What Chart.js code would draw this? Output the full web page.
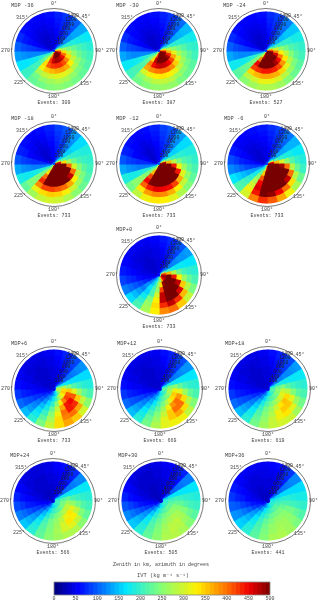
<!DOCTYPE html>
<html>
<head>
<meta charset="utf-8">
<title>IVT composites</title>
<script src="https://cdn.jsdelivr.net/npm/chart.js@4"></script>
<style>
  html, body { margin: 0; padding: 0; background: #fff; width: 320px; height: 603px; overflow: hidden; }
  canvas { position: absolute; filter: blur(0.35px); }
</style>
</head>
<body>
<script>
// IVT, one row per ring (outermost first), 24 azimuth bins from 0 deg clockwise
const mdpM36 = [
  [70,80,100,135,170,190,205,215,225,235,245,250,245,235,225,200,165,130,100,75,60,55,55,60],
  [65,75,95,135,175,200,215,230,240,255,270,275,265,255,235,200,165,125,90,65,55,50,50,55],
  [60,70,90,135,180,210,230,255,275,300,310,310,300,290,270,205,170,120,85,60,50,45,45,50],
  [55,65,85,130,185,225,255,290,330,365,375,370,360,350,320,205,175,120,80,55,45,40,40,45],
  [50,60,85,125,190,240,290,340,385,415,430,430,425,410,340,220,185,120,75,50,40,35,35,40],
  [45,55,80,125,195,265,340,400,445,470,480,480,465,425,310,235,195,120,75,50,35,35,35,40],
  [45,55,80,135,225,320,410,470,490,500,500,500,480,400,280,230,195,125,75,45,35,35,35,40],
  [80,110,160,220,290,340,390,430,460,480,480,470,430,370,300,240,190,150,120,100,80,70,70,75]
];
const mdpM30 = [
  [70,80,105,145,175,195,205,220,230,240,255,260,255,245,235,205,170,135,100,75,60,55,55,60],
  [65,75,100,145,180,200,220,235,250,265,285,290,285,270,250,210,170,125,90,65,55,50,50,55],
  [60,70,95,140,185,215,240,265,290,315,330,335,330,320,300,210,175,120,85,60,50,45,45,50],
  [55,65,90,135,190,230,270,310,350,385,400,400,395,385,370,215,180,120,80,55,45,40,40,45],
  [50,60,85,130,195,250,310,370,420,450,465,470,465,445,390,225,190,120,75,50,40,35,35,40],
  [45,55,85,130,205,280,365,435,480,500,500,500,500,470,340,240,200,120,75,50,35,35,35,40],
  [45,55,85,140,235,340,440,490,500,500,500,500,500,430,290,235,200,125,75,45,35,35,35,40],
  [80,110,165,230,300,360,410,450,480,500,500,490,450,390,310,250,195,150,120,100,80,70,70,75]
];
const mdpM24 = [
  [75,85,115,150,180,195,205,220,230,245,265,275,275,265,250,220,175,135,100,75,60,55,55,60],
  [70,80,110,150,180,205,220,240,260,280,305,315,315,300,285,225,175,125,90,65,55,50,50,55],
  [65,75,105,150,190,215,245,280,310,345,365,370,370,360,345,230,175,120,85,60,50,45,45,50],
  [60,70,100,145,195,235,285,335,380,420,435,440,440,430,420,235,180,120,80,55,45,40,40,45],
  [55,65,95,140,200,260,330,395,445,480,500,500,500,500,450,240,190,120,75,50,40,35,35,40],
  [50,60,95,140,210,295,390,465,500,500,500,500,500,500,390,245,200,125,75,50,35,35,35,40],
  [50,60,95,150,245,360,470,500,500,500,500,500,500,470,300,240,200,125,75,45,35,35,35,40],
  [90,120,175,240,320,380,440,480,500,500,500,500,480,420,330,260,200,155,125,100,85,75,75,80]
];
const mdpM18 = [
  [85,95,130,160,185,195,205,215,230,250,275,295,300,290,265,225,180,135,95,70,60,55,60,70],
  [80,90,125,160,185,200,220,240,265,295,325,345,350,340,315,240,175,125,85,65,55,50,55,65],
  [75,85,120,160,190,210,245,285,330,370,400,410,420,420,385,245,175,120,80,55,50,45,50,60],
  [70,80,115,155,195,230,300,400,470,500,500,500,500,500,430,245,180,115,75,50,45,40,45,55],
  [65,75,110,155,205,265,400,500,500,500,500,500,500,500,400,240,185,115,75,50,40,35,40,50],
  [60,70,105,155,225,340,500,500,500,500,500,500,500,500,340,240,190,115,75,50,35,35,40,50],
  [60,70,105,170,290,450,500,500,500,500,500,500,500,480,290,230,190,120,75,45,35,35,40,50],
  [110,140,190,260,350,420,480,500,500,500,500,500,500,450,360,280,210,160,130,105,90,80,85,95]
];
const mdpM12 = [
  [85,95,130,160,185,195,210,225,245,275,310,330,335,320,285,235,185,135,95,70,60,55,60,70],
  [80,90,125,160,185,205,225,255,290,330,365,385,390,375,335,250,180,125,85,65,55,50,55,65],
  [75,85,120,160,190,215,260,310,365,420,445,450,455,440,405,255,180,120,80,55,50,45,50,60],
  [70,80,115,155,195,240,320,440,500,500,500,500,500,500,450,255,185,115,75,50,45,40,45,55],
  [65,75,110,155,205,280,440,500,500,500,500,500,500,500,420,245,190,115,75,50,40,35,40,50],
  [60,70,105,155,230,360,500,500,500,500,500,500,500,500,360,240,190,115,75,50,35,35,40,50],
  [60,70,105,175,300,470,500,500,500,500,500,500,500,490,300,230,190,120,75,45,35,35,40,50],
  [110,140,190,270,360,430,490,500,500,500,500,500,500,460,360,280,210,160,130,105,90,80,85,95]
];
const mdpM6 = [
  [75,85,110,140,170,185,200,230,270,320,370,410,430,390,300,215,165,120,90,65,55,55,60,65],
  [70,80,105,140,170,195,225,280,340,400,450,490,500,440,320,210,155,110,80,60,50,50,55,60],
  [65,75,100,140,180,215,280,400,470,500,500,500,500,460,295,200,145,100,70,55,45,45,50,55],
  [60,70,95,135,185,250,400,500,500,500,500,500,500,450,270,190,135,90,65,50,40,40,45,50],
  [55,65,95,135,195,300,480,500,500,500,500,500,500,410,250,180,130,85,60,45,40,35,40,45],
  [50,60,90,135,215,360,500,500,500,500,500,500,500,350,225,170,125,80,55,40,35,35,40,45],
  [50,60,95,160,290,450,500,500,500,500,500,500,470,290,200,160,115,75,50,40,35,35,40,45],
  [100,130,180,250,340,420,470,490,500,500,480,450,380,290,220,170,130,105,90,80,75,70,75,85]
];
const mdp0 = [
  [65,75,95,130,165,190,210,240,290,350,400,385,330,270,210,160,115,85,65,55,50,50,50,55],
  [60,70,90,125,165,195,225,280,360,430,470,430,340,260,195,145,105,75,60,50,45,45,45,50],
  [55,65,85,125,170,205,260,350,460,500,500,470,330,240,175,130,95,70,55,45,40,40,40,45],
  [50,60,85,120,170,230,330,470,500,500,500,470,300,210,155,115,85,60,50,45,40,35,40,45],
  [45,55,80,115,180,280,440,500,500,500,500,420,260,210,165,125,75,55,45,40,35,35,35,40],
  [45,50,75,115,200,360,500,500,500,500,490,340,260,195,150,115,65,50,45,40,35,35,35,40],
  [45,50,75,130,260,410,470,490,470,450,370,260,230,175,140,105,60,50,45,35,35,35,35,40],
  [70,85,105,135,170,205,230,245,245,225,195,165,135,110,90,75,65,55,50,45,45,50,55,60]
];
const mdpP6 = [
  [60,70,90,125,160,185,210,250,300,350,370,340,290,240,190,145,105,80,60,50,45,45,45,50],
  [55,65,85,120,160,190,225,290,370,400,390,340,270,220,175,130,95,70,55,45,40,40,40,45],
  [50,60,80,115,160,200,260,350,430,440,400,320,250,200,160,120,90,65,50,45,40,35,40,45],
  [45,55,75,110,160,215,310,410,450,440,370,290,225,180,145,110,80,60,50,40,35,35,35,40],
  [40,50,70,105,165,240,350,410,420,390,320,250,195,160,125,95,75,55,45,40,35,35,35,40],
  [40,45,65,105,175,270,340,350,330,300,250,200,165,135,110,85,65,50,45,35,35,35,35,40],
  [40,45,65,110,190,265,290,280,260,225,190,160,130,110,90,70,60,45,40,35,35,35,35,35],
  [45,50,60,70,85,95,105,105,100,95,85,75,65,60,55,50,45,40,40,35,35,35,40,40]
];
const mdpP12 = [
  [60,70,90,125,165,190,210,245,285,320,320,310,275,235,190,145,105,80,60,50,45,45,45,50],
  [55,65,85,125,165,195,225,280,340,370,350,310,260,225,180,135,95,70,55,45,40,40,40,45],
  [50,60,80,120,170,205,260,340,400,400,350,290,245,210,165,125,90,65,50,45,40,35,40,45],
  [45,55,75,115,170,225,310,380,400,380,320,265,225,190,150,115,85,60,50,40,35,35,35,40],
  [40,50,70,110,175,250,320,350,340,310,270,235,205,170,135,105,75,55,45,40,35,35,35,40],
  [40,45,65,110,185,240,270,275,255,240,225,210,185,150,120,90,70,50,45,35,35,35,35,40],
  [40,45,60,100,170,215,225,220,210,200,190,180,160,130,105,80,60,50,40,35,35,35,35,35],
  [45,50,55,65,75,85,90,95,95,90,85,75,70,60,55,50,45,40,40,35,35,35,40,40]
];
const mdpP18 = [
  [60,70,90,130,170,190,210,235,265,295,300,290,265,235,190,145,105,80,60,50,45,45,45,50],
  [55,65,85,125,170,195,220,260,310,335,320,290,255,225,180,135,95,70,55,45,40,40,40,45],
  [50,60,80,120,170,205,245,310,350,350,320,275,245,215,170,125,90,65,50,45,40,35,40,45],
  [45,55,75,120,175,220,280,340,355,335,295,260,235,200,155,115,85,60,50,40,35,35,35,40],
  [40,50,70,115,180,240,290,310,300,280,255,235,215,180,140,105,75,55,45,40,35,35,35,40],
  [40,45,65,110,185,230,250,250,240,230,220,210,190,155,120,90,70,50,45,35,35,35,35,40],
  [40,45,60,100,170,205,215,215,210,200,190,180,160,130,105,80,60,50,40,35,35,35,35,35],
  [45,50,55,65,75,85,90,95,95,90,85,75,70,60,55,50,45,40,40,35,35,35,40,40]
];
const mdpP24 = [
  [55,60,75,120,170,190,205,225,250,275,275,265,250,225,190,150,115,90,70,55,45,40,40,45],
  [50,55,70,120,170,195,215,245,290,310,300,270,245,220,185,140,105,80,60,50,40,40,40,45],
  [45,50,65,115,170,200,235,285,330,335,300,265,240,215,175,130,95,70,55,45,40,35,35,40],
  [40,50,60,110,170,210,255,310,335,315,280,255,235,205,160,120,85,65,50,40,35,35,35,40],
  [40,45,60,105,175,225,265,285,285,270,250,235,215,185,145,110,80,60,45,40,35,35,35,35],
  [35,40,55,100,175,215,235,240,235,225,215,205,190,160,125,95,70,55,45,35,35,30,30,35],
  [35,40,55,95,165,195,205,205,200,195,190,175,160,135,105,80,60,50,40,35,30,30,30,35],
  [35,35,40,50,60,65,70,75,75,70,65,60,55,50,45,40,35,35,30,30,30,30,30,35]
];
const mdpP30 = [
  [50,55,70,115,165,185,200,220,245,270,280,275,250,225,190,150,120,95,70,55,45,40,40,45],
  [45,50,65,115,165,190,205,230,260,280,285,270,245,220,185,145,110,85,60,50,40,35,35,40],
  [45,50,60,110,165,195,215,245,270,285,280,265,240,215,175,135,100,75,55,45,35,35,35,40],
  [40,45,60,105,165,200,225,250,270,275,265,250,230,205,165,125,90,65,50,40,35,35,35,35],
  [35,40,55,100,165,205,225,245,255,255,245,235,215,190,150,115,80,60,45,40,35,30,30,35],
  [35,40,50,95,165,200,215,225,230,230,220,210,195,170,130,100,70,55,45,35,30,30,30,35],
  [35,35,50,90,155,185,195,200,200,200,190,180,165,140,110,85,60,50,40,35,30,30,30,30],
  [30,30,35,45,55,60,65,70,70,65,60,55,50,45,40,35,35,30,30,25,25,25,30,30]
];
const mdpP36 = [
  [55,60,80,120,160,180,195,215,240,265,275,270,245,220,190,155,125,100,80,65,55,50,50,50],
  [50,55,75,120,160,180,200,225,250,265,270,260,240,215,185,150,120,95,70,60,50,45,45,45],
  [45,50,70,115,160,185,205,235,255,265,265,255,235,210,175,140,110,85,65,55,45,40,40,45],
  [40,45,65,110,160,190,210,235,250,255,255,240,225,200,165,130,100,75,55,50,40,40,40,40],
  [40,45,60,105,160,190,210,225,240,240,235,225,205,185,150,120,85,65,50,45,40,35,35,40],
  [35,40,55,100,155,185,200,210,220,220,210,200,185,165,130,100,75,60,50,40,35,30,35,35],
  [35,35,50,95,145,175,185,190,195,190,185,170,155,135,105,85,60,50,45,35,30,30,30,30],
  [30,30,35,45,50,55,60,65,65,60,55,55,50,45,40,35,35,30,30,25,25,25,30,30]
];

const panelTitles = ['MDP -36','MDP -30','MDP -24','MDP -18','MDP -12','MDP -6','MDP+0','MDP+6','MDP+12','MDP+18','MDP+24','MDP+30','MDP+36'];
const panelEvents = [309,387,527,733,733,733,733,733,669,619,566,505,441];
const panelGrids = [mdpM36,mdpM30,mdpM24,mdpM18,mdpM12,mdpM6,mdp0,mdpP6,mdpP12,mdpP18,mdpP24,mdpP30,mdpP36];
const azimuthBins = ['0','15','30','45','60','75','90','105','120','135','150','165','180','195','210','225','240','255','270','285','300','315','330','345'];
const binWidths = [15,15,15,15,15,15,15,15,15,15,15,15,15,15,15,15,15,15,15,15,15,15,15,15];
const zenithLabels = ['200','400','600','800','1000','1200','1400'];
const colorLevels = [0,10,20,30,40,50,60,70,80,90,100,110,120,130,140,150,160,170,180,190,200,210,220,230,240,250,260,270,280,290,300,310,320,330,340,350,360,370,380,390,400,410,420,430,440,450,460,470,480,490];
const colorTicks = [0,50,100,150,200,250,300,350,400,450,500];

// panel centres on the page
const panelCenters = [
  [53.5,50.5],[159,50.5],[266,50.5],
  [53.5,164],[159,164],[266.5,164],
  [159,274.5],
  [53.5,389],[160,389],[268,389],
  [53,501],[160.5,501],[268,501]
];

const jetStops = [
  [0,0,0,120],[55,0,0,255],[165,0,230,255],[245,130,255,120],
  [330,255,240,0],[400,255,110,0],[450,240,0,0],[500,120,0,0]
];

function ivtColor(v) {
  for (let i = 1; i < jetStops.length; i++) {
    const a = jetStops[i - 1], b = jetStops[i];
    if (v <= b[0]) {
      const t = (v - a[0]) / (b[0] - a[0]);
      const c = [1, 2, 3].map(k => Math.round(a[k] + (b[k] - a[k]) * t));
      return `rgb(${c[0]},${c[1]},${c[2]})`;
    }
  }
  return 'rgb(120,0,0)';
}

const FONT = '"Liberation Mono", monospace';
const TEXT = '#444';
const DISK = 39.5;
const RING = 42.5;

// azimuth labels around the circle
const azimuthMarks = [
  ['0°',0,-47],['45°',32,-34],['90°',45.5,0],['135°',32,33],
  ['180°',0,45.5],['225°',-34,32],['270°',-47,0],['315°',-32,-33.5]
];
const zenithRadii = [9,13.5,19,24.5,30,35,40];

const panelDecor = {
  id: 'panelDecor',
  afterDraw(chart, args, opts) {
    const { ctx, chartArea } = chart;
    const cx = (chartArea.left + chartArea.right) / 2;
    const cy = (chartArea.top + chartArea.bottom) / 2;
    ctx.save();
    ctx.strokeStyle = '#555';
    ctx.lineWidth = 0.8;
    ctx.beginPath();
    ctx.arc(cx, cy, RING, 0, Math.PI * 2);
    ctx.stroke();

    ctx.fillStyle = TEXT;
    ctx.textAlign = 'center';
    ctx.textBaseline = 'middle';
    ctx.font = `5px ${FONT}`;
    azimuthMarks.forEach(m => ctx.fillText(m[0], cx + m[1], cy + m[2]));

    const tilt = 27 * Math.PI / 180;
    ctx.fillStyle = '#222';
    ctx.font = `4.8px ${FONT}`;
    zenithLabels.forEach((z, i) => {
      ctx.fillText(z, cx + zenithRadii[i] * Math.sin(tilt) + 1, cy - zenithRadii[i] * Math.cos(tilt));
    });

    ctx.fillStyle = TEXT;
    ctx.textAlign = 'left';
    ctx.font = `5.4px ${FONT}`;
    ctx.fillText(opts.title, cx - 43, cy - 45);
    ctx.textAlign = 'center';
    ctx.font = `5px ${FONT}`;
    ctx.fillText('Events: ' + opts.events, cx, cy + 52);
    ctx.restore();
  }
};

function drawPanel(idx) {
  const canvas = document.createElement('canvas');
  const w = 112, h = 116;
  canvas.width = w; canvas.height = h;
  canvas.style.left = (panelCenters[idx][0] - w / 2) + 'px';
  canvas.style.top = (panelCenters[idx][1] - h / 2) + 'px';
  document.body.appendChild(canvas);

  const datasets = panelGrids[idx].map((ring, r) => {
    const colors = ring.map(ivtColor);
    return {
      data: binWidths,
      backgroundColor: colors,
      borderColor: colors,
      borderWidth: 1.2,
      borderJoinStyle: 'round',
      // centre ring is thinner than the others
      weight: r === panelGrids[idx].length - 1 ? 0.55 : 1
    };
  });

  new Chart(canvas, {
    type: 'doughnut',
    data: { labels: azimuthBins, datasets },
    options: {
      responsive: false,
      animation: false,
      events: [],
      cutout: 0,
      layout: { padding: { left: w / 2 - DISK, right: w / 2 - DISK, top: h / 2 - DISK, bottom: h / 2 - DISK } },
      plugins: {
        legend: { display: false },
        tooltip: { enabled: false },
        panelDecor: { title: panelTitles[idx], events: panelEvents[idx] }
      }
    },
    plugins: [panelDecor]
  });
}

function drawColorbar() {
  const canvas = document.createElement('canvas');
  canvas.width = 240; canvas.height = 48;
  canvas.style.left = '42px';
  canvas.style.top = '555px';
  document.body.appendChild(canvas);

  const datasets = colorLevels.map(lv => ({
    data: [10],
    backgroundColor: ivtColor(lv + 5),
    borderWidth: 0,
    barPercentage: 1,
    categoryPercentage: 1
  }));

  const captions = {
    id: 'captions',
    afterDraw(chart) {
      const { ctx, chartArea } = chart;
      ctx.save();
      ctx.strokeStyle = '#888';
      ctx.lineWidth = 0.8;
      ctx.strokeRect(chartArea.left, chartArea.top, chartArea.width, chartArea.height);
      ctx.fillStyle = TEXT;
      ctx.textAlign = 'center';
      ctx.textBaseline = 'middle';
      ctx.font = `5px ${FONT}`;
      ctx.fillText('Zenith in km, azimuth in degrees', 119, 10);
      ctx.font = `5.4px ${FONT}`;
      ctx.fillText('IVT (kg m⁻¹ s⁻¹)', 121, 21);
      ctx.restore();
    }
  };

  new Chart(canvas, {
    type: 'bar',
    data: { labels: ['IVT'], datasets },
    options: {
      indexAxis: 'y',
      responsive: false,
      animation: false,
      events: [],
      layout: { padding: { left: 12, right: 12, top: 27, bottom: 0 } },
      scales: {
        x: {
          stacked: true,
          min: 0, max: 500,
          afterBuildTicks(axis) { axis.ticks = colorTicks.map(v => ({ value: v })); },
          grid: { display: false, drawTicks: false },
          border: { display: false },
          ticks: { autoSkip: false, maxRotation: 0, padding: 1, color: TEXT, font: { family: 'Liberation Mono', size: 5 } }
        },
        y: { stacked: true, display: false }
      },
      plugins: { legend: { display: false }, tooltip: { enabled: false } }
    },
    plugins: [captions]
  });
}

panelGrids.forEach((g, i) => drawPanel(i));
drawColorbar();
</script>
</body>
</html>
